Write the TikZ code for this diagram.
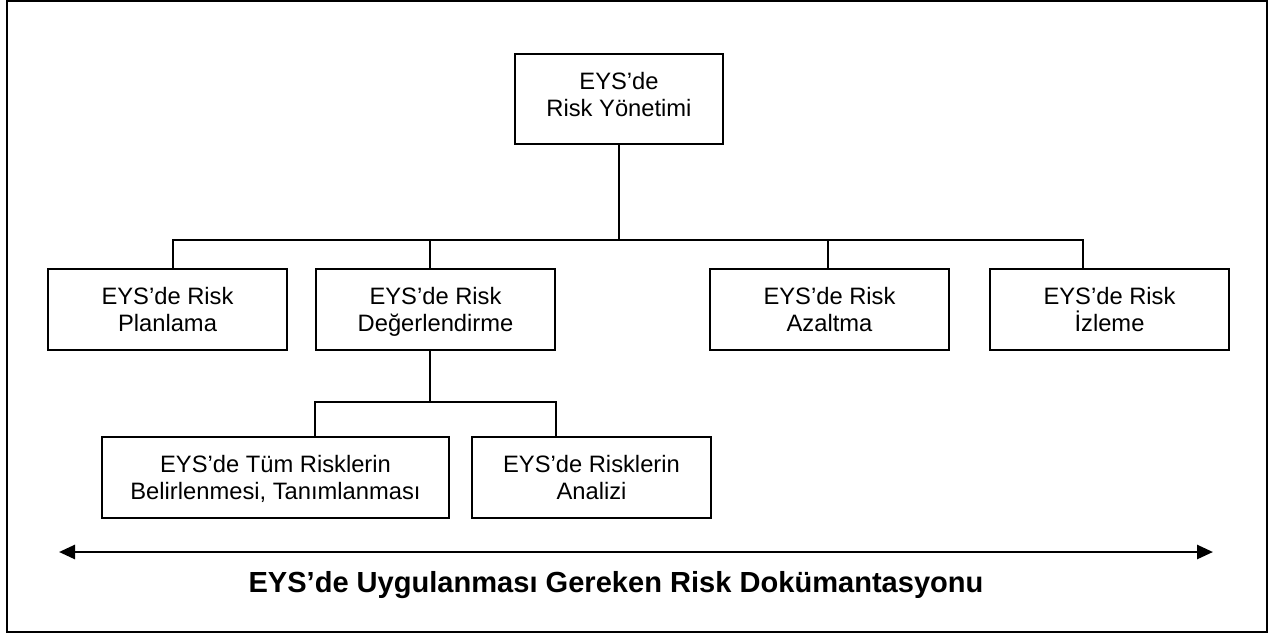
\documentclass[tikz,border=0pt]{standalone}
\usepackage{fontspec}
\setmainfont{Liberation Sans}
\usepackage{tikz}
\usetikzlibrary{arrows.meta,calc,positioning}
\tikzset{
  riskbox/.style={draw,line width=1.4pt,inner sep=0pt,align=center,
    font=\fontsize{17.8}{20.4}\selectfont,text depth=0pt},
  link/.style={line width=1.4pt}
}

\begin{document}
\begin{tikzpicture}[x=0.75pt,y=-0.75pt]
  \useasboundingbox (0,0) rectangle (1277,633);
  \draw[line width=1.6pt] (7,1) rectangle (1267,632);
  % Top
  \node[riskbox,minimum width=156pt,minimum height=67.5pt,text depth=7pt] (top) at (619,99) {EYS’de\\Risk Yönetimi};
  % Second level
  \node[riskbox,minimum width=179pt,minimum height=60.75pt] (plan) at (167.5,309.5) {EYS’de Risk\\Planlama};
  \node[riskbox,minimum width=179pt,minimum height=60.75pt] (deger) at (435.5,309.5) {EYS’de Risk\\Değerlendirme};
  \node[riskbox,minimum width=179pt,minimum height=60.75pt] (azalt) at (829.5,309.5) {EYS’de Risk\\Azaltma};
  \node[riskbox,minimum width=179pt,minimum height=60.75pt] (izle) at (1109.5,309.5) {EYS’de Risk\\İzleme};
  % Third level
  \node[riskbox,minimum width=260.25pt,minimum height=60.75pt] (tum) at (275.5,477.5) {EYS’de Tüm Risklerin\\Belirlenmesi, Tanımlanması};
  \node[riskbox,minimum width=179pt,minimum height=60.75pt] (analiz) at (591.5,477.5) {EYS’de Risklerin\\Analizi};
  % Connectors
  \coordinate (bus) at (619,240);
  \coordinate (subbus) at (430,402);
  \draw[link] (top.south) -- (bus);
  \draw[link] ([xshift=4pt]plan.north) |- (bus) -| ([xshift=-20pt]izle.north);
  \draw[link] ([xshift=-4pt]deger.north) -- ([xshift=-4pt]deger.north |- bus);
  \draw[link] ([xshift=-1pt]azalt.north) -- ([xshift=-1pt]azalt.north |- bus);
  \draw[link] (deger.south -| subbus) -- (subbus);
  \draw[link] (tum.north -| deger.west) |- (subbus) -| (analiz.north -| deger.east);
  % Documentation span
  \coordinate (docL) at (59,552);
  \coordinate (docR) at (1213,552);
  \draw[{Triangle[length=12pt,width=10.5pt]}-{Triangle[length=12pt,width=10.5pt]},line width=2pt] (docL) -- (docR);
  \node[font=\bfseries\fontsize{21.8}{26}\selectfont] (doc) at (616,585) {EYS’de Uygulanması Gereken Risk Dokümantasyonu};
\end{tikzpicture}
\end{document}
